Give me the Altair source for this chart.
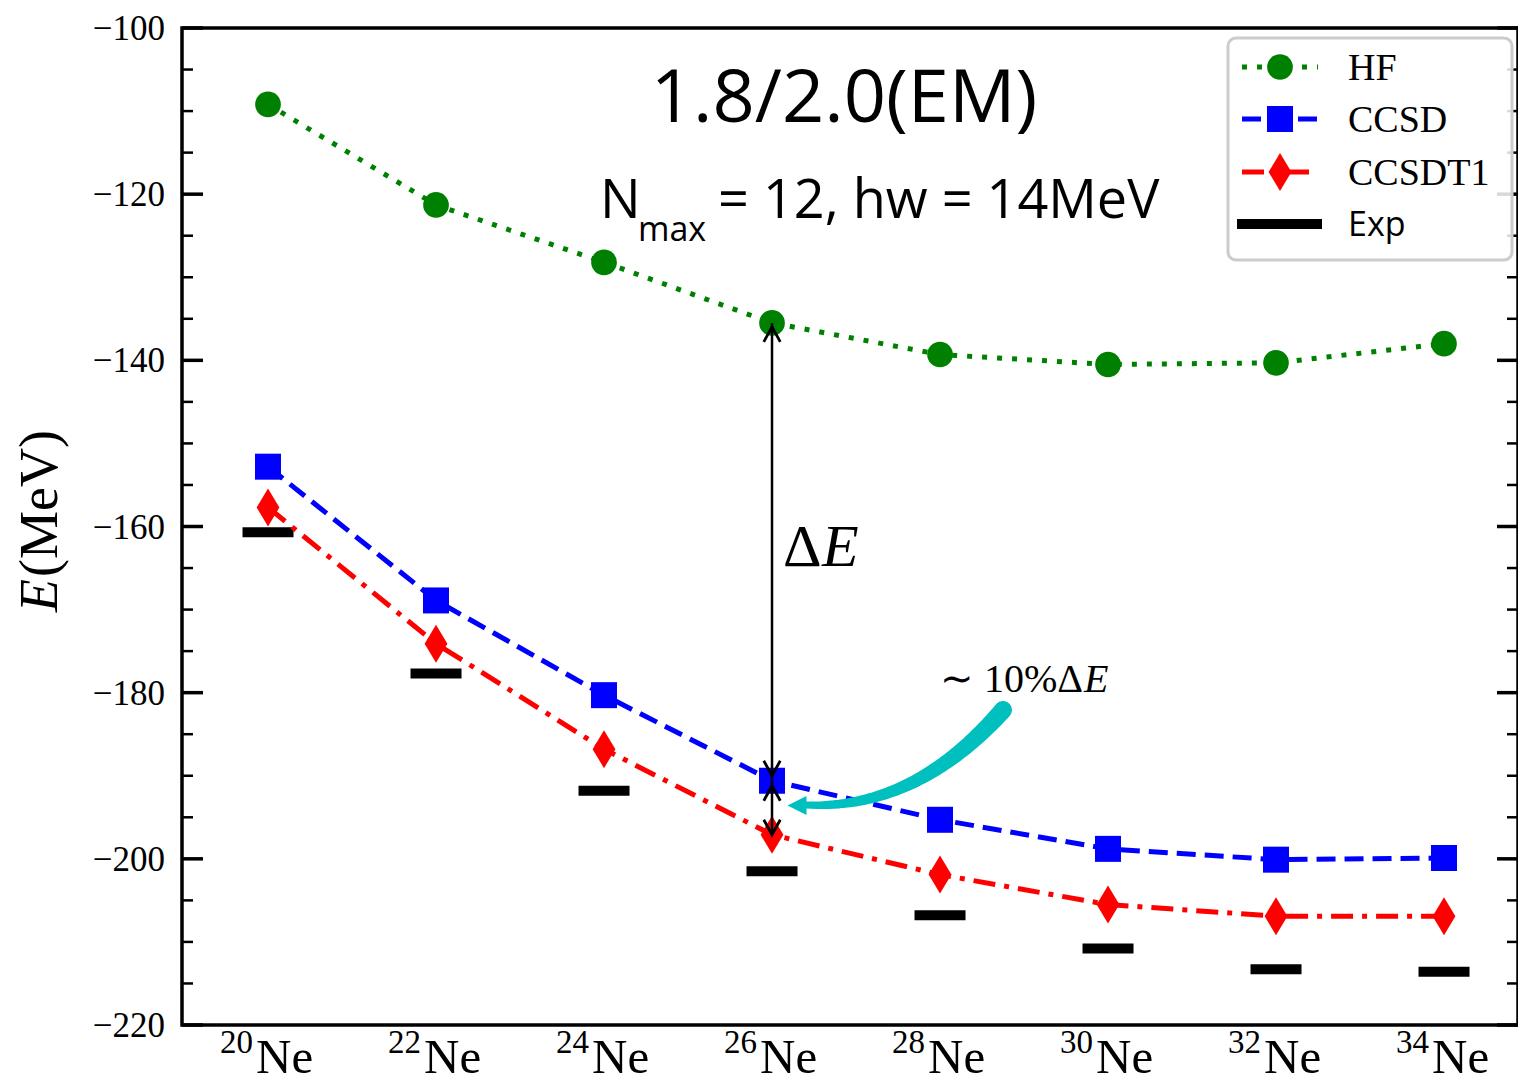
import altair as alt
import pandas as pd
import numpy as np

# ---------------- data ----------------
mass_numbers = ["20", "22", "24", "26", "28", "30", "32", "34"]
element = "Ne"
hf = [-109.2, -121.3, -128.2, -135.5, -139.3, -140.5, -140.3, -138.0]
ccsd = [-152.8, -168.9, -180.3, -190.6, -195.3, -198.8, -200.1, -199.9]
ccsdt1 = [-157.7, -174.1, -186.8, -197.1, -201.9, -205.5, -206.9, -206.9]
exp = [-160.7, -177.7, -191.8, -201.5, -206.8, -210.8, -213.3, -213.6]
major_ticks = [-220, -200, -180, -160, -140, -120, -100]
major_labels = ["−220", "−200", "−180", "−160", "−140", "−120", "−100"]
minor_ticks = [-215, -210, -205, -195, -190, -185, -175, -170, -165,
               -155, -150, -145, -135, -130, -125, -115, -110, -105]

# ---------------- layout ----------------
W, H = 1336, 997
TOP = 28              # page y of plot top (page margin 8 + padding)
STEP = 168.0          # pixels per isotope
X0 = -0.512           # left domain edge (isotope index)
xs = alt.Scale(domain=[X0, X0 + W / STEP], nice=False, zero=False)
ys = alt.Scale(domain=[-220, -100], nice=False, zero=False)

GREEN, BLUE, RED, CYAN = "#008000", "#0000FF", "#FF0000", "#00BFBF"
SERIF = "Liberation Serif"
SANS = "Open Sans"

df = pd.DataFrame({"i": list(range(len(mass_numbers))), "mass": mass_numbers,
                   "el": [element] * len(mass_numbers),
                   "HF": hf, "CCSD": ccsd, "CCSDT1": ccsdt1, "Exp": exp})

def X(field="i"):
    return alt.X(f"{field}:Q", scale=xs, axis=None)

def Y(field):
    return alt.Y(f"{field}:Q", scale=ys, axis=None)

def px2x(px):   # plot-relative pixel -> data x (annotations only)
    return X0 + px / STEP

def py2y(py):
    return -100 - py * 120.0 / H

def ry(page_y):  # page y -> plot-relative y (annotations only)
    return page_y - TOP

base = alt.Chart(df)

DIAMOND = "M0,-1 L0.6,0 L0,1 L-0.6,0 Z"

layers = []

# y tick labels
tick_major = pd.DataFrame({"v": major_ticks, "lab": major_labels})
tick_minor = pd.DataFrame({"v": minor_ticks})
layers.append(alt.Chart(tick_major).mark_text(
    font=SERIF, fontSize=35, align="right", baseline="alphabetic", dy=12,
    color="black").encode(y=Y("v"), x=alt.value(-17), text="lab:N"))

# inward ticks on left and right spines
for d, ln, sw in [(tick_major, 21, 3.5), (tick_minor, 11, 2.5)]:
    layers.append(alt.Chart(d).mark_rule(color="black", strokeWidth=sw).encode(
        y=Y("v"), x=alt.value(0), x2=alt.value(ln)))
    layers.append(alt.Chart(d).mark_rule(color="black", strokeWidth=sw).encode(
        y=Y("v"), x=alt.value(W - ln), x2=alt.value(W)))

# experiment bars
layers.append(base.mark_tick(orient="horizontal", size=51, thickness=10,
                             color="black", opacity=1).encode(x=X(), y=Y("Exp")))

# HF
layers.append(base.mark_line(color=GREEN, strokeWidth=5, strokeDash=[5, 10],
                             strokeCap="butt").encode(x=X(), y=Y("HF")))
layers.append(base.mark_point(shape="circle", filled=True, size=660, color=GREEN,
                              opacity=1).encode(x=X(), y=Y("HF")))
# CCSD
layers.append(base.mark_line(color=BLUE, strokeWidth=5, strokeDash=[19, 9],
                             strokeCap="butt").encode(x=X(), y=Y("CCSD")))
layers.append(base.mark_point(shape="square", filled=True, size=676, color=BLUE,
                              opacity=1).encode(x=X(), y=Y("CCSD")))
# CCSDT1
layers.append(base.mark_line(color=RED, strokeWidth=5, strokeDash=[22, 9, 5, 9],
                             strokeCap="butt").encode(x=X(), y=Y("CCSDT1")))
layers.append(base.mark_point(shape=DIAMOND, filled=True, size=1444, color=RED,
                              opacity=1).encode(x=X(), y=Y("CCSDT1")))

# ---------------- ΔE arrows at 26Ne ----------------
k = mass_numbers.index("26")
arr = pd.DataFrame({"i": [k], "top": [hf[k]], "mid": [ccsd[k]], "bot": [ccsdt1[k]]})
ab = alt.Chart(arr)
UP = "M-0.55,1 L0,0 L0.55,1"
DOWN = "M-0.55,-1 L0,0 L0.55,-1"
layers.append(ab.mark_rule(color="black", strokeWidth=2.5).encode(
    x=X(), y=Y("top"), y2=alt.Y2("mid")))
layers.append(ab.mark_rule(color="black", strokeWidth=2.5).encode(
    x=X(), y=Y("mid"), y2=alt.Y2("bot")))
for field, shp, off in [("top", UP, 4), ("mid", DOWN, -5), ("mid", UP, 5), ("bot", DOWN, 0)]:
    layers.append(ab.mark_point(shape=shp, filled=False, size=900, color="black",
                                strokeWidth=2.8, opacity=1, yOffset=off).encode(
        x=X(), y=Y(field)))

# ---------------- cyan curved arrow ----------------
P0 = np.array([821.0, ry(710)])   # plot-relative pixels (tail)
P1 = np.array([733.0, ry(810)])
P2 = np.array([624.0, ry(805)])   # before arrow head
t = np.linspace(0, 1, 40)
pts = ((1 - t)[:, None] ** 2) * P0 + (2 * (1 - t) * t)[:, None] * P1 + (t[:, None] ** 2) * P2
curve = pd.DataFrame({"o": np.arange(len(t)), "cx": px2x(pts[:, 0]),
                      "cy": py2y(pts[:, 1]), "w": 18 - 11 * t})
layers.append(alt.Chart(curve).mark_trail(color=CYAN).encode(
    x=X("cx"), y=Y("cy"), size=alt.Size("w:Q", scale=None, legend=None),
    order="o:Q"))
head = pd.DataFrame({"cx": [px2x(615.0)], "cy": [py2y(ry(805.5))]})
layers.append(alt.Chart(head).mark_point(shape="M1,-1 L-1,0 L1,1 Z", filled=True,
                                         size=361, color=CYAN, opacity=1).encode(
    x=X("cx"), y=Y("cy")))

# ---------------- text helpers ----------------
def txt(label, x, y, size, font, style="normal", align="left",
        baseline="alphabetic", angle=0, color="black"):
    kw = dict(font=font, fontSize=size, fontStyle=style, align=align,
              baseline=baseline, color=color)
    if angle:
        kw["angle"] = angle
    return alt.Chart(pd.DataFrame({"t": [label]})).mark_text(**kw).encode(
        text="t:N", x=alt.value(x), y=alt.value(y))

# x tick labels (mass number superscript + element)
layers.append(base.mark_text(font=SERIF, fontSize=49, align="left",
                             baseline="alphabetic", dx=-12, color="black").encode(
    x=X(), y=alt.value(ry(1073)), text="el:N"))
layers.append(base.mark_text(font=SERIF, fontSize=33, align="right",
                             baseline="alphabetic", dx=-15, color="black").encode(
    x=X(), y=alt.value(ry(1053)), text="mass:N"))

# y axis title
layers.append(txt("E", -125, ry(612), 54, SERIF, style="italic", angle=270))
layers.append(txt("(MeV)", -125, ry(577), 54, SERIF, angle=270))

# titles inside plot
layers.append(txt("1.8/2.0(EM)", 662, ry(122), 74, SANS, align="center"))
layers.append(txt("N", 418, ry(218), 54, SANS))
layers.append(txt("max", 456, ry(241), 34, SANS))
layers.append(txt("= 12, hw = 14MeV", 536, ry(218), 54, SANS))

layers.append(txt("Δ", 601, ry(566), 60, SERIF))
layers.append(txt("E", 640, ry(566), 60, SERIF, style="italic"))
layers.append(txt("∼ 10%Δ", 758, ry(692), 40, SERIF))
layers.append(txt("E", 902, ry(692), 40, SERIF, style="italic"))

# ---------------- legend ----------------
one = pd.DataFrame({"d": [0]})
layers.append(alt.Chart(one).mark_rect(fill="white", fillOpacity=0.85,
                                       stroke="#cccccc", strokeWidth=3,
                                       cornerRadius=8).encode(
    x=alt.value(1046), x2=alt.value(1330), y=alt.value(ry(38)), y2=alt.value(ry(260))))
rows = [(ry(67), GREEN, [5, 10], "circle", 660, "HF", SERIF),
        (ry(119), BLUE, [19, 9], "square", 676, "CCSD", SERIF),
        (ry(172), RED, [22, 9, 5, 9], DIAMOND, 1444, "CCSDT1", SERIF)]
for yy, col, dash, shp, sz, lab, fnt in rows:
    layers.append(alt.Chart(one).mark_rule(color=col, strokeWidth=5, strokeDash=dash,
                                           strokeCap="butt").encode(
        x=alt.value(1060), x2=alt.value(1136), y=alt.value(yy)))
    layers.append(alt.Chart(one).mark_point(shape=shp, filled=True, size=sz, color=col,
                                            opacity=1).encode(
        x=alt.value(1098), y=alt.value(yy)))
    layers.append(txt(lab, 1166, yy + 13, 38, fnt))
layers.append(alt.Chart(one).mark_rule(color="black", strokeWidth=10).encode(
    x=alt.value(1055), x2=alt.value(1140), y=alt.value(ry(224))))
layers.append(txt("Exp", 1166, ry(236), 34, SANS))

chart = alt.layer(*layers).properties(
    width=W, height=H,
    autosize=alt.AutoSizeParams(type="none"),
    padding={"left": 174, "top": TOP - 8, "right": 0, "bottom": 58},
    background="white",
).configure_view(stroke="black", strokeWidth=3.5)

chart.save("out.html", embed_options={"renderer": "svg", "actions": False})
